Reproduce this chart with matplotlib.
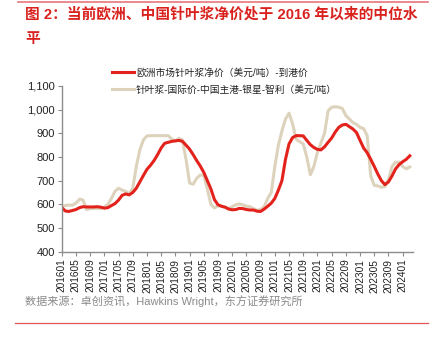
import matplotlib
matplotlib.use("Agg")
import matplotlib.pyplot as plt
from matplotlib.lines import Line2D

plt.rcParams["font.family"] = ["Liberation Sans", "Noto Sans CJK SC", "DejaVu Sans"]

# ── データ（2016/01〜2024/03 月次, 美元/吨）─────────────────
months = [f"{y}{m:02d}" for y in range(2016, 2025) for m in range(1, 13)][:99]

europe_net = [
    587, 572, 570, 574, 578, 586, 590, 589, 589, 589, 590, 588,
    584, 586, 595, 603, 618, 638, 644, 640, 650, 668, 695, 722,
    748, 765, 785, 810, 838, 858, 862, 866, 868, 870, 866, 850,
    833, 810, 785, 762, 735, 700, 665, 620, 598, 592, 588, 580,
    577, 578, 583, 582, 578, 576, 576, 571, 570, 580, 592, 605,
    625, 660, 700, 790, 855, 882, 890, 890, 889, 870, 852, 840,
    832, 830, 843, 862, 880, 905, 925, 935, 938, 928, 918, 903,
    870, 838, 818, 790, 760, 728, 700, 683, 695, 720, 750, 768,
    780, 790, 805,
]

china_intl = [
    590, 595, 597, 596, 605, 622, 618, 578, 582, 583, 583, 583,
    588, 600, 625, 655, 668, 660, 655, 645, 668, 760, 830, 872,
    889, 890, 890, 890, 890, 890, 890, 875, 868, 879, 872, 790,
    690, 685, 710, 724, 722, 665, 600, 585, 594, 592, 588, 583,
    590, 598, 602, 598, 592, 590, 582, 575, 578, 590, 625, 650,
    760, 850, 910, 960, 985, 940, 875, 865, 855, 800, 725, 760,
    820, 860, 900, 995, 1010, 1012, 1010, 1005, 975, 960, 945, 938,
    925, 920, 890, 720, 680, 678, 672, 675, 705, 760, 778, 778,
    760, 750, 758,
]

tick_labels = months[::4]

TITLE = "图 2：当前欧洲、中国针叶浆净价处于 2016 年以来的中位水\n平"
SOURCE = "数据来源：卓创资讯，Hawkins Wright，东方证券研究所"
LABEL_EU = "欧洲市场针叶浆净价（美元/吨）-到港价"
LABEL_CN = "针叶浆-国际价-中国主港-银星-智利（美元/吨）"

# ── カラー ──────────────────────────────────────────
RED = "#E3221C"
BEIGE = "#DDD3BD"
TITLE_RED = "#D9221E"
AXIS_GRAY = "#8C8C8C"

fig = plt.figure(figsize=(4.38, 3.37), dpi=100)
ax = fig.add_axes([0.1409, 0.2531, 0.802, 0.4919])

x = list(range(len(months)))
ax.plot(x, china_intl, color=BEIGE, lw=2.2, solid_joinstyle="round")
ax.plot(x, europe_net, color=RED, lw=2.2, solid_joinstyle="round")

ax.set_ylim(400, 1100)
ax.set_yticks(range(400, 1101, 100))
ax.set_yticklabels([f"{v:,}" for v in range(400, 1101, 100)], fontsize=8)
ax.set_xlim(0, 98.9)
ax.set_xticks(x[::4])
ax.set_xticklabels(tick_labels, rotation=90, fontsize=7.3)

for s in ["top", "right"]:
    ax.spines[s].set_visible(False)
for s in ["left", "bottom"]:
    ax.spines[s].set_color(AXIS_GRAY)
    ax.spines[s].set_linewidth(1.0)
ax.tick_params(axis="both", colors=AXIS_GRAY, labelcolor="#222222",
               length=3, width=0.8, pad=2)

# 凡例
handles = [Line2D([], [], color=RED, lw=2.2), Line2D([], [], color=BEIGE, lw=2.2)]
fig.legend(handles, [LABEL_EU, LABEL_CN], loc="upper left",
           bbox_to_anchor=(0.235, 0.826), frameon=False, fontsize=7,
           handlelength=2.3, handletextpad=0.2, labelspacing=0.75,
           labelcolor="#222222")

# タイトル・出典
fig.text(0.057, 0.978, TITLE, ha="left", va="top", fontsize=10.6,
         fontweight="bold", color=TITLE_RED, linespacing=1.9)
fig.add_artist(Line2D([0.04, 0.977], [0.994, 0.994], color="#E6767A", lw=1.2))
fig.text(0.057, 0.108, SOURCE, ha="left", va="center", fontsize=8,
         color="#8A8A8A")
fig.add_artist(Line2D([0.035, 0.977], [0.043, 0.043], color="#E05555", lw=0.9))

fig.savefig("out.png", dpi=100, facecolor="white")
